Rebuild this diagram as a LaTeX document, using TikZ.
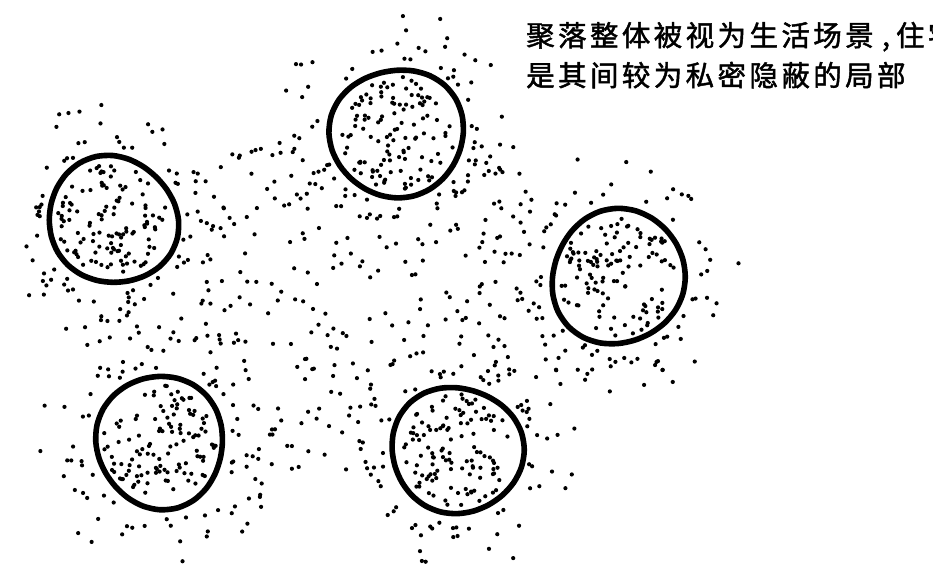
\documentclass[tikz,border=0pt]{standalone}
\usepackage{fontspec}
\newfontfamily\cjk{Noto Sans CJK SC}[FakeBold=1.6]
\def\spc#1{\ifx#1\relax\else#1\kern3.4pt\expandafter\spc\fi}
\tikzset{
  ring/.style={line width=5.6pt, line join=round},
  stip/.style={fill=black},
  captext/.style={font=\cjk\fontsize{28.5}{40}\selectfont, inner sep=0pt, anchor=base west}
}
\begin{document}
\begin{tikzpicture}[x=1pt,y=-1pt]
\useasboundingbox (0,0) rectangle (933,579);
\clip (0,0) rectangle (933,579);
\fill[white] (0,0) rectangle (933,579);
\pgfmathsetseed{12345}
% scattered dots between the houses
\foreach \ax/\ay/\bx/\by in {60/200/407/95, 407/95/680/270, 680/270/482/485, 482/485/118/478, 118/478/60/200} {
  \foreach \i in {1,...,85} {
    \pgfmathsetmacro\myu{rnd}
    \pgfmathsetmacro\myv{rnd}
    \pgfmathtruncatemacro\mys{(\myu+\myv>1)}
    \ifnum\mys=1 \pgfmathsetmacro\myu{1-\myu}\pgfmathsetmacro\myv{1-\myv}\fi
    \pgfmathsetmacro\px{349+\myu*(\ax-349)+\myv*(\bx-349)}
    \pgfmathsetmacro\py{304+\myu*(\ay-304)+\myv*(\by-304)}
    \pgfmathtruncatemacro\ok{(veclen((\px-113)/100,(\py-220)/100)>0.72) && (veclen((\px-397)/100,(\py-133)/100)>0.73) && (veclen((\px-618)/100,(\py-277)/100)>0.75) && (veclen((\px-160)/100,(\py-442)/100)>0.73) && (veclen((\px-457)/100,(\py-450)/100)>0.72)}
    \ifnum\ok=1 \fill[stip] (\px,\py) circle[radius=2.1pt]; \fi
  }
}
% houses: dense dots inside, halo outside, ring
\foreach \cx/\cy/\Rr/\ph in {113/220/64/20, 397/133/65.5/110, 618/277/67/200, 160/442/65/290, 457/450/64.5/60} {
  \foreach \i in {1,...,115} {
    \pgfmathsetmacro\ang{360*rnd}
    \pgfmathsetmacro\rr{(\Rr-8)*sqrt(rnd)}
    \fill[stip] ({\cx+\rr*cos(\ang)},{\cy+\rr*sin(\ang)}) circle[radius=2.1pt];
  }
  \foreach \i in {1,...,75} {
    \pgfmathsetmacro\ang{360*rnd}
    \pgfmathsetmacro\rr{\Rr+9+50*pow(rnd,1.5)}
    \fill[stip] ({\cx+\rr*cos(\ang)},{\cy+\rr*sin(\ang)}) circle[radius=2.1pt];
  }
  \draw[ring] plot[smooth cycle, samples=24, domain=0:345, variable=\t]
    ({\cx+(\Rr+1.8*sin(2*\t+\ph)+1.4*sin(3*\t+2*\ph))*cos(\t)},
     {\cy+(\Rr+1.8*sin(2*\t+\ph)+1.4*sin(3*\t+2*\ph))*sin(\t)});
}
% caption
\node[captext] (t1) at (526,46) {\spc 聚落整体被视为生活场景\relax\kern5pt,\kern6pt\spc 住宅\relax};
\node[captext] (t2) at (526,86) {\spc 是其间较为私密隐蔽的局部\relax};
\end{tikzpicture}
\end{document}
